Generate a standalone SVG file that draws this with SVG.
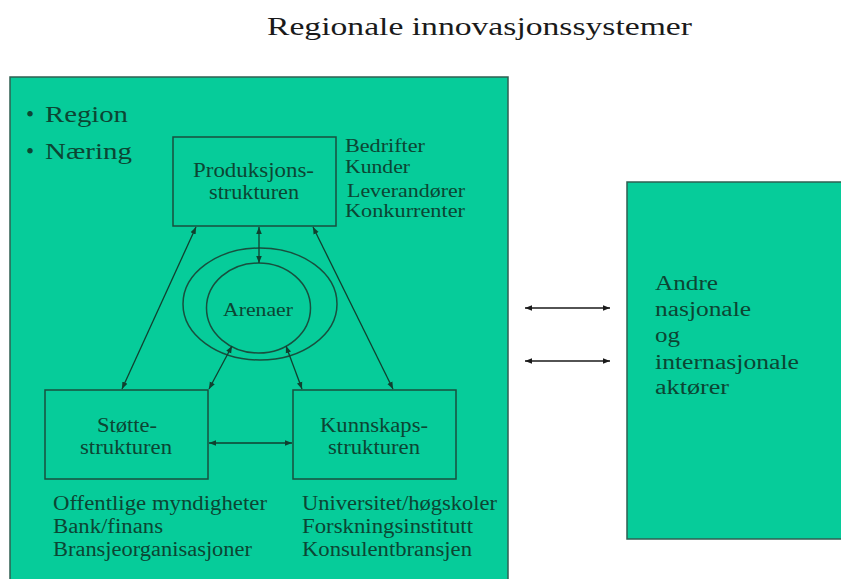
<svg xmlns="http://www.w3.org/2000/svg" width="841" height="579" viewBox="0 0 841 579">
<style>
.bg{fill:#06cc9a;stroke:#2f5f52;stroke-width:1.5}
.box{fill:none;stroke:#184f3e;stroke-width:1.5}
.t{font-family:"Liberation Serif","Times New Roman",serif;fill:#0c4533}
.c{stroke:#10402f;stroke-width:1.3;fill:none;marker-start:url(#ah);marker-end:url(#ah)}
.k{stroke:#1a1a1a;stroke-width:1.3;fill:none;marker-start:url(#ahk);marker-end:url(#ahk)}
</style>
<defs>
<marker id="ah" viewBox="0 0 10 10" refX="10" refY="5" markerWidth="7" markerHeight="7" markerUnits="userSpaceOnUse" orient="auto-start-reverse"><path d="M0,1 L10,5 L0,9 z" fill="#10402f"/></marker>
<marker id="ahk" viewBox="0 0 10 10" refX="10" refY="5" markerWidth="7" markerHeight="7" markerUnits="userSpaceOnUse" orient="auto-start-reverse"><path d="M0,1 L10,5 L0,9 z" fill="#1a1a1a"/></marker>
</defs>
<rect width="841" height="579" fill="#ffffff"/>
<text x="267" y="35" font-family="Liberation Serif,serif" font-size="26" fill="#1a1a1a" textLength="425" lengthAdjust="spacingAndGlyphs">Regionale innovasjonssystemer</text>

<g id="region">
<rect class="bg" x="10" y="77" width="498" height="510"/>
<text class="t" x="26" y="122" font-size="23">•</text>
<text class="t" x="45" y="122" font-size="23" textLength="83" lengthAdjust="spacingAndGlyphs">Region</text>
<text class="t" x="26" y="159" font-size="23">•</text>
<text class="t" x="45" y="159" font-size="23" textLength="87" lengthAdjust="spacingAndGlyphs">Næring</text>
</g>

<g id="andre">
<rect class="bg" x="627" y="182" width="220" height="357"/>
<text class="t" x="655" y="290" font-size="20" textLength="63" lengthAdjust="spacingAndGlyphs">Andre</text>
<text class="t" x="655" y="316" font-size="20" textLength="96" lengthAdjust="spacingAndGlyphs">nasjonale</text>
<text class="t" x="655" y="342" font-size="20" textLength="25" lengthAdjust="spacingAndGlyphs">og</text>
<text class="t" x="655" y="369" font-size="20" textLength="144" lengthAdjust="spacingAndGlyphs">internasjonale</text>
<text class="t" x="655" y="394" font-size="20" textLength="74" lengthAdjust="spacingAndGlyphs">aktører</text>
</g>

<g id="produksjon">
<rect class="box" x="173" y="137" width="163" height="89"/>
<text class="t" x="193" y="177" font-size="20" textLength="121" lengthAdjust="spacingAndGlyphs">Produksjons-</text>
<text class="t" x="209" y="199" font-size="20" textLength="90" lengthAdjust="spacingAndGlyphs">strukturen</text>
<text class="t" x="345" y="152" font-size="18" textLength="80" lengthAdjust="spacingAndGlyphs">Bedrifter</text>
<text class="t" x="345" y="173" font-size="18" textLength="65" lengthAdjust="spacingAndGlyphs">Kunder</text>
<text class="t" x="347" y="197" font-size="18" textLength="118" lengthAdjust="spacingAndGlyphs">Leverandører</text>
<text class="t" x="345" y="217" font-size="18" textLength="120" lengthAdjust="spacingAndGlyphs">Konkurrenter</text>
</g>

<g id="arenaer">
<ellipse class="box" cx="260" cy="304" rx="77" ry="56"/>
<ellipse class="box" cx="258.5" cy="308" rx="52" ry="45"/>
<text class="t" x="223" y="316" font-size="19" textLength="70" lengthAdjust="spacingAndGlyphs">Arenaer</text>
</g>

<g id="stotte">
<rect class="box" x="45" y="390" width="163" height="89"/>
<text class="t" x="97" y="432" font-size="20" textLength="60" lengthAdjust="spacingAndGlyphs">Støtte-</text>
<text class="t" x="80" y="454" font-size="20" textLength="92" lengthAdjust="spacingAndGlyphs">strukturen</text>
<text class="t" x="53" y="510" font-size="20" textLength="214" lengthAdjust="spacingAndGlyphs">Offentlige myndigheter</text>
<text class="t" x="53" y="533" font-size="20" textLength="110" lengthAdjust="spacingAndGlyphs">Bank/finans</text>
<text class="t" x="53" y="556" font-size="20" textLength="199" lengthAdjust="spacingAndGlyphs">Bransjeorganisasjoner</text>
</g>

<g id="kunnskap">
<rect class="box" x="293" y="390" width="163" height="89"/>
<text class="t" x="320" y="432" font-size="20" textLength="108" lengthAdjust="spacingAndGlyphs">Kunnskaps-</text>
<text class="t" x="328" y="454" font-size="20" textLength="92" lengthAdjust="spacingAndGlyphs">strukturen</text>
<text class="t" x="302" y="510" font-size="20" textLength="195" lengthAdjust="spacingAndGlyphs">Universitet/høgskoler</text>
<text class="t" x="302" y="533" font-size="20" textLength="171" lengthAdjust="spacingAndGlyphs">Forskningsinstitutt</text>
<text class="t" x="302" y="556" font-size="20" textLength="170" lengthAdjust="spacingAndGlyphs">Konsulentbransjen</text>
</g>

<g id="connectors">
<line class="c" x1="259" y1="227" x2="259" y2="263"/>
<line class="c" x1="196" y1="227" x2="122" y2="389"/>
<line class="c" x1="313" y1="227" x2="393" y2="389"/>
<line class="c" x1="232" y1="346" x2="209" y2="389"/>
<line class="c" x1="286" y1="346" x2="302" y2="389"/>
<line class="c" x1="209" y1="443" x2="292" y2="443"/>
<line class="k" x1="525" y1="308" x2="610" y2="308"/>
<line class="k" x1="525" y1="361" x2="610" y2="361"/>
</g>
</svg>
